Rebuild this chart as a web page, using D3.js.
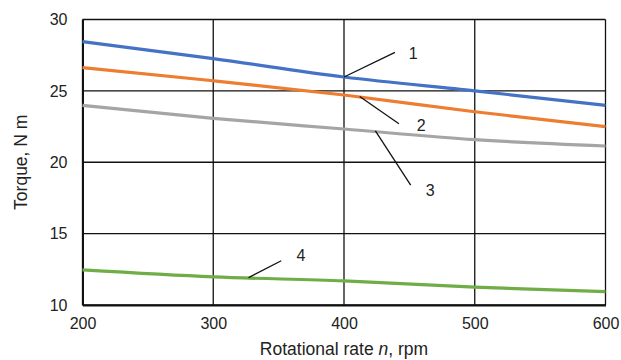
<!DOCTYPE html>
<html>
<head>
<meta charset="utf-8">
<script src="https://cdn.jsdelivr.net/npm/d3@7"></script>
<style>
  body { margin: 0; background: #fff; }
  text { font-family: "Liberation Sans", Arial, sans-serif; fill: #222; }
</style>
</head>
<body>
<div id="chart"></div>
<script>
// rotational rate, rpm
var rpm = [200, 300, 400, 500, 600];
// torque, N m, curves 1..4
var torque1 = [28.45, 27.26, 25.97, 25.0, 23.99];
var torque2 = [26.63, 25.71, 24.71, 23.54, 22.49];
var torque3 = [23.99, 23.08, 22.33, 21.58, 21.14];
var torque4 = [12.46, 11.97, 11.69, 11.25, 10.94];
var seriesColors = ['#4472C4', '#ED7D31', '#A5A5A5', '#70AD47'];
var xTicks = [200, 300, 400, 500, 600];
var yTicks = [10, 15, 20, 25, 30];
// curve labels: text, point on curve (rpm, torque) and label anchor (rpm, torque)
var labelNames = ['1', '2', '3', '4'];
var labelFrom = [[400, 25.97], [412, 24.6], [424, 22.2], [327, 11.92]];
var labelTo = [[439, 27.7], [442, 22.7], [451, 18.4], [352, 13.1]];
var labelAt = [[453, 27.6], [459, 22.6], [466, 18.0], [367, 13.5]];

var w = 621, h = 360;
var mLeft = 82.5, mRight = 605.5, mTop = 19.5, mBottom = 305;

var svg = d3.select('#chart').append('svg')
  .attr('width', w)
  .attr('height', h);

var xScale = d3.scaleLinear().domain([200, 600]).range([mLeft, mRight]);
var yScale = d3.scaleLinear().domain([10, 30]).range([mBottom, mTop]);

// grid
svg.append('g').selectAll('line').data(xTicks).enter().append('line')
  .attr('x1', function(d) { return xScale(d); })
  .attr('x2', function(d) { return xScale(d); })
  .attr('y1', mTop).attr('y2', mBottom)
  .style('stroke', '#111').style('stroke-width', 1.3);
svg.append('g').selectAll('line').data(yTicks).enter().append('line')
  .attr('x1', mLeft).attr('x2', mRight)
  .attr('y1', function(d) { return yScale(d); })
  .attr('y2', function(d) { return yScale(d); })
  .style('stroke', '#111').style('stroke-width', 1.3);

// axes
var xAxis = d3.axisBottom(xScale).tickValues(xTicks).tickSize(0).tickPadding(13);
var xAxisG = svg.append('g')
  .attr('transform', 'translate(0,' + mBottom + ')')
  .call(xAxis);
xAxisG.select('.domain').style('stroke', '#111').style('stroke-width', 2);
xAxisG.selectAll('text').style('font-size', '16px').style('fill', '#222');

var yAxis = d3.axisLeft(yScale).tickValues(yTicks).tickSize(0).tickPadding(15);
var yAxisG = svg.append('g')
  .attr('transform', 'translate(' + mLeft + ',0)')
  .call(yAxis);
yAxisG.select('.domain').style('stroke', '#111').style('stroke-width', 2);
yAxisG.selectAll('text').style('font-size', '16px').style('fill', '#222');

// lines
var series = [torque1, torque2, torque3, torque4];
var line = d3.line()
  .x(function(d, i) { return xScale(rpm[i]); })
  .y(function(d) { return yScale(d); })
  .curve(d3.curveMonotoneX);

svg.append('g').selectAll('path').data(series).enter().append('path')
  .attr('d', line)
  .style('fill', 'none')
  .style('stroke', function(d, i) { return seriesColors[i]; })
  .style('stroke-width', 3.2);

// leaders and labels
svg.append('g').selectAll('line').data(labelNames).enter().append('line')
  .attr('x1', function(d, i) { return xScale(labelFrom[i][0]); })
  .attr('y1', function(d, i) { return yScale(labelFrom[i][1]); })
  .attr('x2', function(d, i) { return xScale(labelTo[i][0]); })
  .attr('y2', function(d, i) { return yScale(labelTo[i][1]); })
  .style('stroke', '#111').style('stroke-width', 1.3);

svg.append('g').selectAll('text').data(labelNames).enter().append('text')
  .attr('x', function(d, i) { return xScale(labelAt[i][0]); })
  .attr('y', function(d, i) { return yScale(labelAt[i][1]); })
  .attr('text-anchor', 'middle')
  .attr('dominant-baseline', 'central')
  .style('font-size', '16px')
  .text(function(d) { return d; });

// axis titles
var xLabel = svg.append('text')
  .attr('x', (mLeft + mRight) / 2)
  .attr('y', 355)
  .attr('text-anchor', 'middle')
  .style('font-size', '17.5px');
xLabel.append('tspan').text('Rotational rate ');
xLabel.append('tspan').style('font-style', 'italic').text('n');
xLabel.append('tspan').text(', rpm');

svg.append('text')
  .attr('transform', 'translate(27,' + ((mTop + mBottom) / 2) + ') rotate(-90)')
  .attr('text-anchor', 'middle')
  .style('font-size', '17.5px')
  .text('Torque, N m');
</script>
</body>
</html>
